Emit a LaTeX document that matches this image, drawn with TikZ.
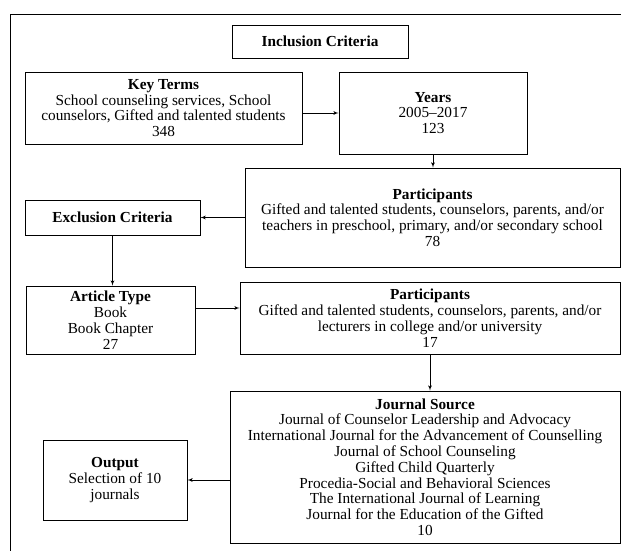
\documentclass[tikz,border=0pt]{standalone}
\usepackage{fontspec}
\setmainfont{Liberation Serif}
\usetikzlibrary{arrows}
\tikzstyle{etapa}=[draw, line width=0.8pt, align=center, inner sep=0pt,
  font=\fontsize{15.3}{15.8}\selectfont]
\tikzstyle{marco}=[draw, line width=0.8pt]
\tikzstyle{flecha}=[draw, line width=0.8pt, -latex']
\newcommand{\etapa}[5]{node (c#1) [etapa, minimum width=#2, minimum height=#3]
  {\textbf{#4}\\#5}}
\newcommand{\titulo}[4]{node (c#1) [etapa, minimum width=#2, minimum height=#3]
  {\textbf{#4}}}
\begin{document}
\begin{tikzpicture}[x=1pt,y=1pt]

% Page size and outer frame
\useasboundingbox (0,0) rectangle (621,-551);
\path [marco] (10,-551) -- (10,-14) -- (621,-14);

% Draw diagram elements
\path (320,-41.5)              \titulo{1}{176}{33}{Inclusion Criteria};
\path (c1)+(-156.5,-66.5)      \etapa{2}{277}{72}{Key Terms}
  {School counseling services, School\\counselors, Gifted and talented students\\348};
\path (c2)+(269.5,-5.0)        \etapa{3}{188}{82}{Years}{2005--2017\\123};
\path (c3)+(-0.5,-104.5)       \etapa{4}{375}{99}{Participants}
  {Gifted and talented students, counselors, parents, and/or\\teachers in preschool, primary, and/or secondary school\\78};
\path (c4)+(-320.0,0.0)        \titulo{5}{175}{35}{Exclusion Criteria};
\path (c5)+(-2.0,-102.5)       \etapa{6}{169}{68}{Article Type}{Book\\Book Chapter\\27};
\path (c6)+(319.5,2.0)         \etapa{7}{380}{72}{Participants}
  {Gifted and talented students, counselors, parents, and/or\\lecturers in college and/or university\\17};
\path (c7)+(-5.0,-149.0)       \etapa{8}{390}{152}{Journal Source}
  {Journal of Counselor Leadership and Advocacy\\International Journal for the Advancement of Counselling\\Journal of School Counseling\\Gifted Child Quarterly\\Procedia-Social and Behavioral Sciences\\The International Journal of Learning\\Journal for the Education of the Gifted\\10};
\path (c8)+(-310.0,-13.0)      \etapa{9}{144}{80}{Output}{Selection of 10\\journals};

% Draw arrows between elements
\coordinate (a6) at ([yshift=12pt]c6.east);
\path [flecha] (c2.east |- c3.west) -- (c3.west);
\path [flecha] (c3.south) -- (c3.south |- c4.north);
\path [flecha] (c4.west) -- (c5.east);
\path [flecha] (c5.south) -- (c5.south |- c6.north);
\path [flecha] (a6) -- (a6 -| c7.west);
\path [flecha] (c7.south) -- (c7.south |- c8.north);
\path [flecha] (c8.west |- c9.east) -- (c9.east);
\end{tikzpicture}
\end{document}
